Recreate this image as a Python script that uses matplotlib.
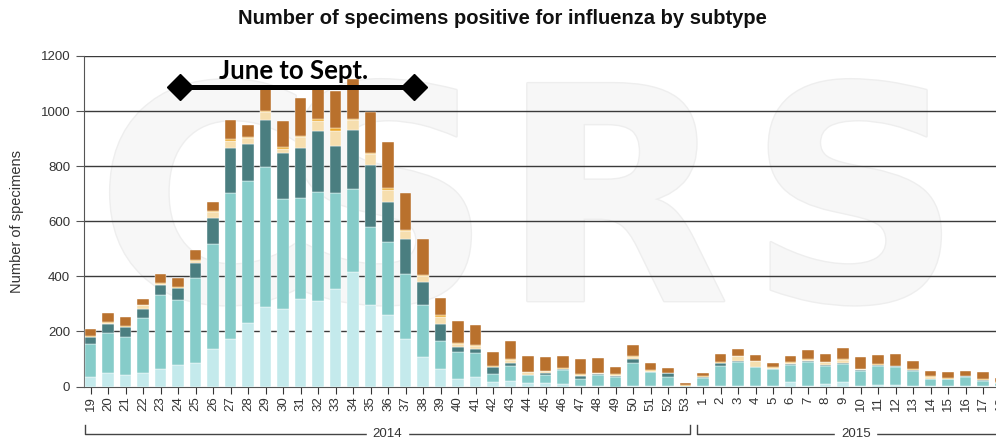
import matplotlib
matplotlib.use('Agg')
import matplotlib.pyplot as plt
import matplotlib.transforms as mtransforms
import matplotlib.patheffects as pe
import numpy as np

plt.rcParams['font.family'] = ['Liberation Sans', 'DejaVu Sans']

# weeks shown: 2014 wk19-53, 2015 wk1-18
weeks_2014 = list(range(19, 54))
weeks_2015 = list(range(1, 19))
week_labels = [str(w) for w in weeks_2014 + weeks_2015]

# stacked subtype counts, bottom to top
light = [36, 48, 42, 48, 63, 78, 86, 136, 174, 232, 290, 281, 318, 310, 353, 415, 296, 260, 174, 108,
         64, 27, 33, 17, 21, 12, 12, 9, 2, 2, 0, 1, 1, 1, 0,
         1, 3, 2, 1, 1, 17, 2, 10, 15, 2, 4, 4, 2, 1, 1, 2, 1, 1]
medium = [118, 145, 139, 200, 269, 236, 307, 380, 527, 514, 506, 399, 365, 397, 348, 301, 282, 264, 233, 189,
          101, 99, 87, 28, 53, 28, 29, 51, 24, 40, 36, 85, 50, 35, 3,
          30, 73, 86, 68, 61, 61, 86, 64, 66, 56, 70, 66, 56, 26, 26, 33, 20, 10]
dark = [27, 33, 34, 35, 35, 43, 57, 95, 166, 136, 172, 169, 184, 222, 173, 215, 226, 145, 129, 84,
        62, 16, 15, 26, 10, 2, 7, 3, 12, 3, 2, 14, 3, 12, 0,
        3, 8, 6, 2, 3, 3, 4, 3, 6, 3, 3, 3, 3, 2, 1, 2, 3, 2]
wheat = [0, 5, 0, 12, 5, 0, 7, 22, 25, 20, 30, 14, 38, 35, 55, 36, 40, 45, 27, 19,
         26, 12, 13, 1, 13, 9, 7, 0, 3, 3, 4, 8, 4, 0, 0,
         2, 3, 16, 23, 2, 5, 5, 11, 10, 1, 1, 0, 0, 6, 0, 0, 0, 0]
gold = [2, 4, 3, 0, 4, 3, 2, 4, 5, 3, 3, 8, 5, 7, 8, 4, 5, 6, 5, 5,
        5, 3, 3, 3, 2, 2, 2, 3, 3, 2, 2, 3, 2, 2, 2,
        2, 3, 2, 0, 3, 3, 3, 2, 3, 3, 2, 2, 3, 2, 2, 2, 2, 2]
orange = [26, 31, 34, 23, 33, 35, 37, 34, 71, 43, 78, 93, 139, 108, 136, 144, 149, 167, 133, 131,
          62, 82, 72, 49, 66, 58, 50, 45, 55, 52, 27, 39, 24, 18, 9,
          12, 28, 25, 20, 17, 21, 34, 28, 39, 41, 33, 43, 30, 18, 22, 16, 26, 15]

series = [light, medium, dark, wheat, gold, orange]
colors = ['#c4eaec', '#86ccc9', '#4a7e80', '#f6deae', '#eca72a', '#b9712d']

W, H = 996, 444
fig = plt.figure(figsize=(W / 100, H / 100), dpi=100)
# axes runs past the right edge, as in the cropped original
ax = fig.add_axes([83.5 / W, (H - 386.5) / H, 924 / W, 330.5 / H])

# faint watermark behind the bars
for letter, cx in zip('CSRS', [205, 385, 615, 855]):
    ax.text(cx / W, 1 - 218 / H, letter, fontsize=215, fontweight='bold',
            color='#f7f7f7', ha='center', va='center', zorder=0,
            family='DejaVu Sans', transform=fig.transFigure, clip_on=False,
            path_effects=[pe.withStroke(linewidth=2, foreground='#eeeeee')])

x = np.arange(len(week_labels))
bottom = np.zeros(len(x))
for vals, c in zip(series, colors):
    ax.bar(x, vals, width=0.66, bottom=bottom, color=c, zorder=3,
           edgecolor='white', linewidth=0.3)
    bottom += np.array(vals)

ax.set_xlim(-0.4, 52.4)
ax.set_ylim(0, 1200)
ax.set_yticks(range(0, 1201, 200))
ax.set_xticks(x)
ax.set_xticklabels(week_labels, rotation=90, fontsize=9.5, color='#333333')
ax.tick_params(axis='y', labelsize=9.5, labelcolor='#333333', length=6, color='#555555')
ax.tick_params(axis='x', length=5, color='#333333', pad=2)
for y in range(200, 1201, 200):
    ax.axhline(y, color='#3a3a3a', lw=1.0, zorder=2)
for s in ['top', 'right']:
    ax.spines[s].set_visible(False)
ax.spines['left'].set_color('#555555')
ax.spines['bottom'].set_color('#555555')
ax.set_ylabel('Number of specimens', fontsize=10.5, color='#333333', labelpad=12)

fig.text(502.5 / W, 1 - 18 / H, 'Number of specimens positive for influenza by subtype',
         ha='center', va='center', fontsize=14.5, fontweight='bold', color='#111111')

# year brackets under the week labels
trans = mtransforms.blended_transform_factory(ax.transData, ax.transAxes)
yb, yt = -0.145, -0.118
years = [('2014', -0.31, 34.26), ('2015', 34.66, 52.8)]
for name, x0, x1 in years:
    ax.plot([x0, x0, x1, x1], [yt, yb, yb, yt], transform=trans, color='#444444',
            lw=1, clip_on=False)
    ax.text((x0 + x1) / 2, yb, name, transform=trans, ha='center', va='center',
            fontsize=9.5, color='#333333', backgroundcolor='white', clip_on=False)

# June to Sept. span
ax.plot([5.11, 18.46], [1087, 1087], color='black', lw=3.6, zorder=5, clip_on=False,
        marker='D', markersize=13, solid_capstyle='butt')
ax.text(11.63, 1147, 'June to Sept.', ha='center', va='center', fontsize=18.5,
        fontweight='bold', family=['Lato', 'DejaVu Sans'], zorder=6)

fig.savefig('out.png', dpi=100)
